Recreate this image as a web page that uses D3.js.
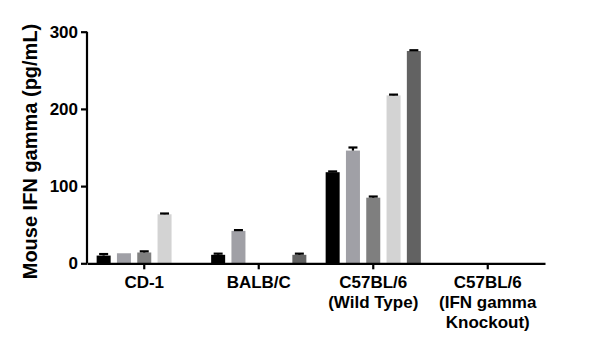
<!DOCTYPE html>
<html>
<head>
<meta charset="utf-8">
<script src="https://cdn.jsdelivr.net/npm/d3@7"></script>
<style>
  html, body { margin: 0; padding: 0; background: #fff; }
  svg { display: block; font-family: "Liberation Sans", Arial, sans-serif; font-weight: bold; }
</style>
</head>
<body>
<svg id="chart" width="600" height="347"></svg>
<script>
// Mouse strains along the x axis (each label may span several lines)
const strains = ["CD-1", "BALB/C", "C57BL/6", "C57BL/6 KO"];
const strainLabels = [
  ["CD-1"],
  ["BALB/C"],
  ["C57BL/6", "(Wild Type)"],
  ["C57BL/6", "(IFN gamma", "Knockout)"]
];
// Five samples measured for every strain
const samples = ["s1", "s2", "s3", "s4", "s5"];
const sampleColors = ["#000000", "#a0a0a6", "#7f7f7f", "#d3d3d3", "#626262"];
// Mean IFN gamma (pg/mL) per strain, one value per sample (null = not detected)
const meanCD1   = [10, 13, 14, 63.5, null];
const meanBALBC = [11, 42, null, null, 11];
const meanC57WT = [118, 146, 85, 217.5, 275];
const meanC57KO = [null, null, null, null, null];
// Standard error for each mean
const errCD1   = [2, 0, 1.5, 1, 0];
const errBALBC = [1.5, 1, 0, 0, 1.5];
const errC57WT = [1, 4, 1.5, 1, 1];
const errC57KO = [0, 0, 0, 0, 0];
const yTicks = [0, 100, 200, 300];

const means = [meanCD1, meanBALBC, meanC57WT, meanC57KO];
const errs = [errCD1, errBALBC, errC57WT, errC57KO];

const svg = d3.select("#chart");
const plotLeft = 87, plotRight = 545, plotTop = 31.7, plotBottom = 263.3;

const x0 = d3.scaleBand().domain(strains).range([plotLeft, plotRight]).paddingInner(0).paddingOuter(0);
const x1 = d3.scaleBand().domain(samples).range([0, x0.bandwidth()]).paddingInner(0.31).paddingOuter(0.475);
const y = d3.scaleLinear().domain([0, 300]).range([plotBottom, plotTop]);

const rows = [];
strains.forEach((s, i) => samples.forEach((k, j) => {
  if (means[i][j] != null) rows.push({ strain: s, sample: k, j, v: means[i][j], e: errs[i][j] });
}));

// Bars
svg.append("g").selectAll("rect").data(rows).join("rect")
  .attr("x", d => x0(d.strain) + x1(d.sample))
  .attr("y", d => y(d.v))
  .attr("width", x1.bandwidth())
  .attr("height", d => y(0) - y(d.v))
  .attr("fill", d => sampleColors[d.j]);

// Error bars (upper half only)
const eb = svg.append("g").attr("stroke", "#000").attr("stroke-width", 2.2);
rows.filter(d => d.e > 0).forEach(d => {
  const cx = x0(d.strain) + x1(d.sample) + x1.bandwidth() / 2;
  eb.append("line").attr("x1", cx).attr("x2", cx).attr("y1", y(d.v)).attr("y2", y(d.v + d.e));
  eb.append("line").attr("x1", cx - 4.5).attr("x2", cx + 4.5).attr("y1", y(d.v + d.e)).attr("y2", y(d.v + d.e));
});

// Y axis
const yAxis = svg.append("g").attr("transform", `translate(${plotLeft},0)`)
  .call(d3.axisLeft(y).tickValues(yTicks).tickSize(6).tickPadding(3).tickFormat(d3.format("d")));
yAxis.select(".domain").attr("stroke-width", 2.2).attr("d", `M0,${plotTop}V${plotBottom}`);
yAxis.selectAll(".tick line").attr("stroke-width", 2.2);
yAxis.selectAll(".tick text").attr("font-size", 17).attr("font-weight", "bold")
  .attr("font-family", "Liberation Sans, Arial, sans-serif").attr("fill", "#000");

// X axis
const xAxis = svg.append("g").attr("transform", `translate(0,${plotBottom})`)
  .call(d3.axisBottom(x0).tickSize(6).tickSizeOuter(0).tickFormat(""));
xAxis.select(".domain").attr("stroke-width", 2.2);
xAxis.selectAll(".tick line").attr("stroke-width", 2.2);

// Multi-line strain labels
strains.forEach((s, i) => {
  const cx = x0(s) + x0.bandwidth() / 2;
  const t = svg.append("text")
    .attr("x", cx)
    .attr("text-anchor", "middle")
    .attr("font-size", 17)
    .attr("fill", "#000");
  strainLabels[i].forEach((line, k) => {
    t.append("tspan").attr("x", cx).attr("y", 288 + k * 20).text(line);
  });
});

// Y axis title
svg.append("text")
  .attr("transform", `translate(37,${(20 + 283) / 2}) rotate(-90)`)
  .attr("text-anchor", "middle")
  .attr("font-size", 20)
  .attr("fill", "#000")
  .text("Mouse IFN gamma (pg/mL)");
</script>
</body>
</html>
